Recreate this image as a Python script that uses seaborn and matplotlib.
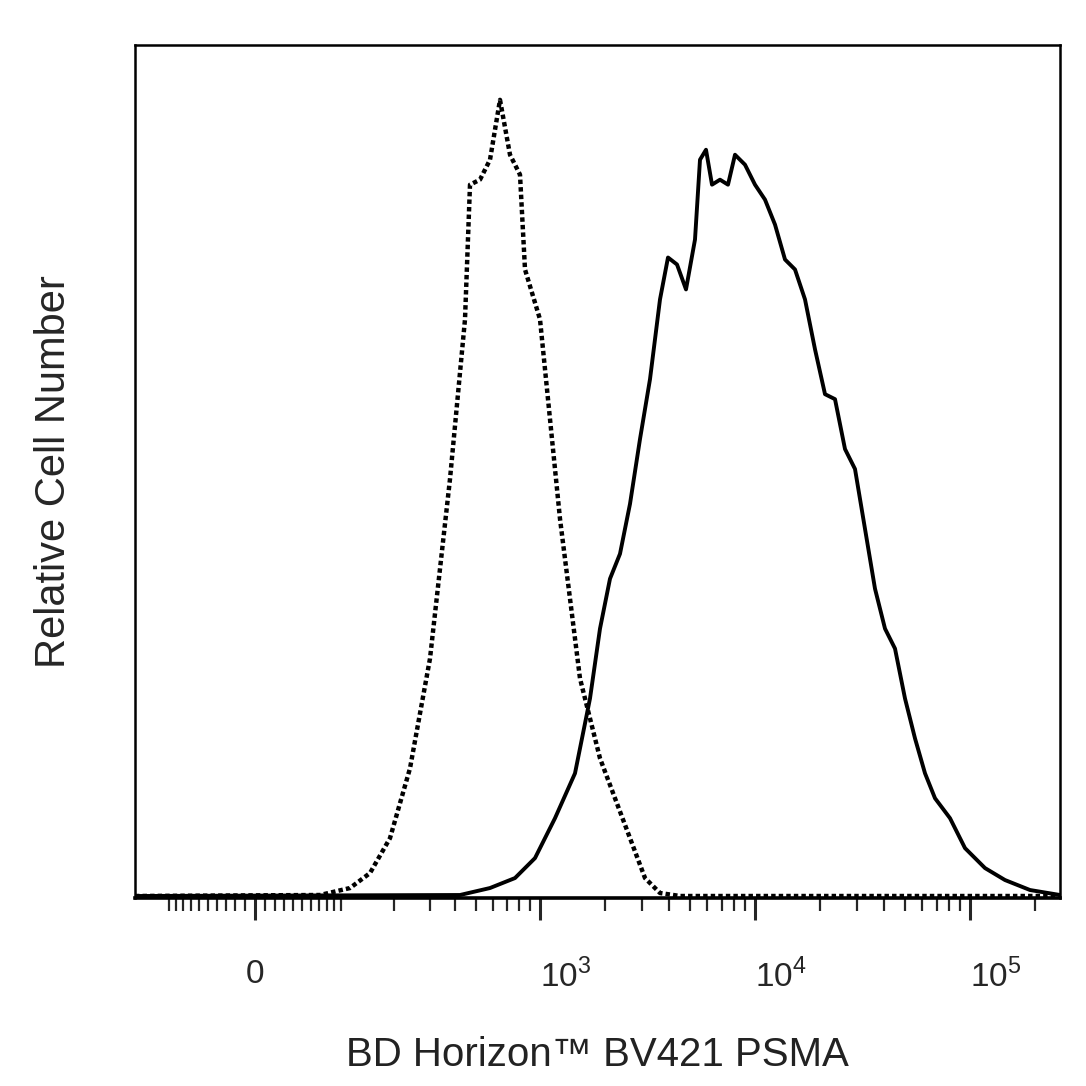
import numpy as np
import pandas as pd
import matplotlib
matplotlib.use('Agg')
import matplotlib.pyplot as plt
import seaborn as sns

sns.set_style('white')
plt.rcParams['font.family'] = ['Liberation Sans', 'DejaVu Sans']
plt.rcParams['mathtext.fontset'] = 'custom'
plt.rcParams['mathtext.rm'] = 'Liberation Sans'

# channel (display units, 0..925) and counts
iso_ch = [0, 185, 215, 235, 255, 275, 295, 315, 330, 335, 345, 355, 365, 375, 385, 390,
          405, 415, 425, 435, 445, 455, 465, 480, 495, 510, 525, 545, 925]
iso_ct = [0, 1, 8, 23, 58, 128, 238, 418, 578, 713, 718, 738, 798, 743, 723, 628,
          578, 478, 378, 298, 218, 178, 138, 98, 58, 18, 3, 0, 0]

psma_ch = [0, 325, 355, 380, 400, 420, 440, 455, 465, 475, 485, 495, 505, 515, 525, 533,
           542, 551, 560, 565, 571, 577, 585, 593, 600, 610, 620, 630, 640, 650, 660, 670,
           680, 690, 700, 710, 720, 730, 740, 750, 760, 770, 780, 790, 800, 815, 830, 850,
           870, 895, 925]
psma_ct = [0, 1, 8, 18, 38, 78, 123, 198, 268, 318, 343, 393, 458, 518, 598, 640,
           633, 608, 658, 738, 748, 713, 718, 713, 743, 733, 713, 698, 673, 638, 628, 598,
           548, 503, 498, 448, 428, 368, 308, 268, 248, 198, 158, 123, 98, 78, 48, 28,
           16, 6, 1]

major_vals = [0, 1e3, 1e4, 1e5]
major_labels = ['0', '$10^3$', '$10^4$', '$10^5$']


def to_ch(v):
    return 93.4 * np.arcsinh(np.asarray(v, dtype=float) / 94.8) + 120


minor_vals = ([-v for v in range(10, 100, 10)] + [-100] + list(range(10, 100, 10))
              + list(range(100, 1000, 100)) + list(range(2000, 10000, 1000))
              + list(range(20000, 100000, 10000)) + [200000])

fig = plt.figure(figsize=(10.86, 10.86), dpi=100)
ax = fig.add_axes([135 / 1086, 1 - 898 / 1086, 925 / 1086, 853 / 1086])

df_iso = pd.DataFrame({'ch': iso_ch, 'ct': iso_ct})
df_psma = pd.DataFrame({'ch': psma_ch, 'ct': psma_ct})
sns.lineplot(data=df_iso, x='ch', y='ct', ax=ax, color='black', lw=3.2,
             linestyle=(0, (1, 0.7)))
sns.lineplot(data=df_psma, x='ch', y='ct', ax=ax, color='black', lw=2.8)

ax.set_xlim(0, 925)
ax.set_ylim(-2, 853)
ax.set_xticks(to_ch(major_vals))
ax.set_xticklabels(major_labels, fontsize=24)
ax.set_xticks(to_ch([v for v in minor_vals if to_ch(v) > 0 and to_ch(v) < 925]), minor=True)
ax.tick_params(axis='x', which='major', direction='out', length=16, width=2.2, pad=28,
               bottom=True)
ax.tick_params(axis='x', which='minor', direction='out', length=9, width=1.6, bottom=True)
for lbl in ax.get_xticklabels():
    lbl.set_horizontalalignment('left')
ax.get_xticklabels()[0].set_horizontalalignment('center')
ax.set_yticks([])
for s in ax.spines.values():
    s.set_linewidth(1.8)
    s.set_color('black')
ax.spines['bottom'].set_linewidth(2.6)

ax.set_xlabel('BD Horizon™ BV421 PSMA', fontsize=29, labelpad=30, color='#222222')
ax.set_ylabel('Relative Cell Number', fontsize=30, labelpad=44)

fig.savefig('out.png', dpi=100)
